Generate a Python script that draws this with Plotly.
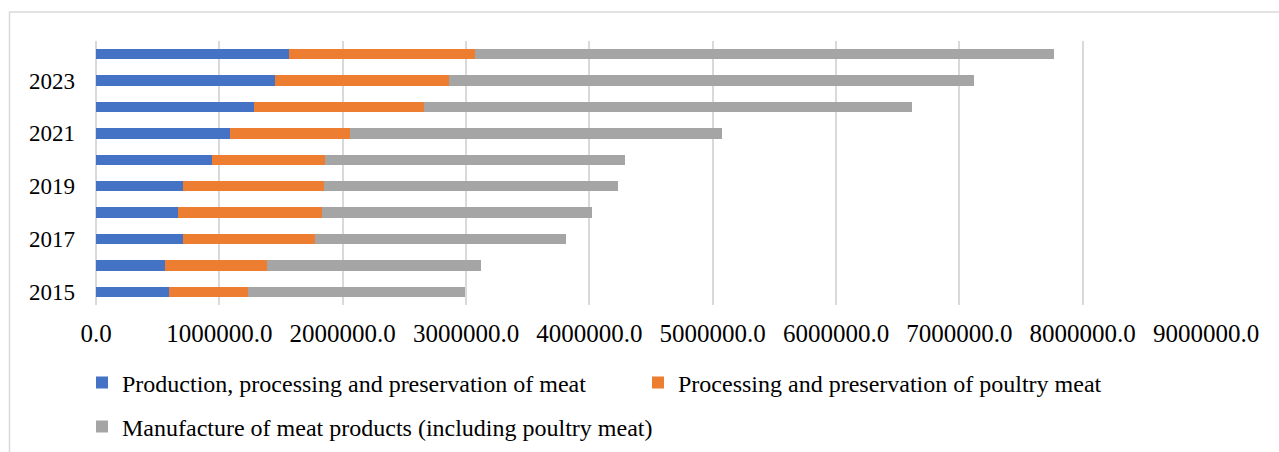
import plotly.graph_objects as go

# Years shown on the category axis (every year drawn, odd years labelled)
years = [2015, 2016, 2017, 2018, 2019, 2020, 2021, 2022, 2023, 2024]
year_labels = [2015, 2017, 2019, 2021, 2023]

# Series values
meat = [591000, 562000, 702000, 667000, 702000, 937000, 1083000, 1283000, 1448000, 1566000]
poultry = [638000, 821000, 1075000, 1169000, 1148000, 921000, 980000, 1377000, 1415000, 1510000]
meat_products = [1764000, 1742000, 2037000, 2188000, 2385000, 2431000, 3010000, 3955000, 4257000, 4690000]

series_names = [
    "Production, processing and preservation of meat",
    "Processing and preservation of poultry meat",
    "Manufacture of meat products (including poultry meat)",
]
series_colors = ["#4472C4", "#ED7D31", "#A5A5A5"]
series_legends = ["legend", "legend", "legend2"]

x_ticks = [0, 1000000, 2000000, 3000000, 4000000, 5000000, 6000000, 7000000, 8000000, 9000000]

FONT = "Liberation Serif"
FS_Y, FS_X, FS_LEG = 23, 25, 24
W, H = 1279, 452
M_L, M_R, M_T, M_B = 96, 73, 41, 147

fig = go.Figure()
for vals, name, color, lg in zip([meat, poultry, meat_products], series_names, series_colors, series_legends):
    fig.add_trace(go.Bar(
        x=vals, y=years, orientation="h", name=name,
        marker=dict(color=color, line=dict(width=0)),
        width=0.4, legend=lg,
    ))

# Chart-area border (open on the right and bottom edges)
pw = W - M_L - M_R
ph = H - M_T - M_B
bx0 = (9.5 - M_L) / pw
by1 = (H - M_B - 12) / ph
fig.add_shape(type="rect", xref="paper", yref="paper",
              x0=bx0, x1=1.2, y0=-1.0, y1=by1,
              line=dict(color="#D9D9D9", width=1.5), layer="below")

legend_common = dict(
    orientation="h", xanchor="left", yanchor="middle",
    font=dict(family=FONT, size=FS_LEG, color="#000000"),
    itemwidth=30, bgcolor="rgba(0,0,0,0)", tracegroupgap=0,
    traceorder="normal", entrywidthmode="pixels",
)

fig.update_layout(
    width=W, height=H,
    margin=dict(l=M_L, r=M_R, t=M_T, b=M_B, autoexpand=False),
    paper_bgcolor="#FFFFFF", plot_bgcolor="#FFFFFF",
    barmode="stack", bargap=0.6,
    font=dict(family=FONT, color="#000000"),
    showlegend=True,
    legend=dict(x=(82 - M_L) / pw, y=(H - M_B - 383) / ph, entrywidth=511, **legend_common),
    legend2=dict(x=(82 - M_L) / pw, y=(H - M_B - 427) / ph, entrywidth=700, **legend_common),
    xaxis=dict(
        range=[0, 9000000], tickvals=x_ticks, tickformat=".1f",
        showgrid=True, gridcolor="#D9D9D9", gridwidth=1.5,
        zeroline=True, zerolinecolor="#D9D9D9", zerolinewidth=1.5,
        showline=False, ticks="", ticklabelstandoff=11, automargin=False,
        tickfont=dict(family=FONT, size=FS_X, color="#000000"),
    ),
    yaxis=dict(
        range=[2014.5, 2024.5], tickvals=year_labels,
        ticktext=[str(y) for y in year_labels],
        showgrid=False, zeroline=False, showline=False, ticks="",
        ticklabelstandoff=20, automargin=False,
        tickfont=dict(family=FONT, size=FS_Y, color="#000000"),
    ),
)

fig.write_html("out.html")
